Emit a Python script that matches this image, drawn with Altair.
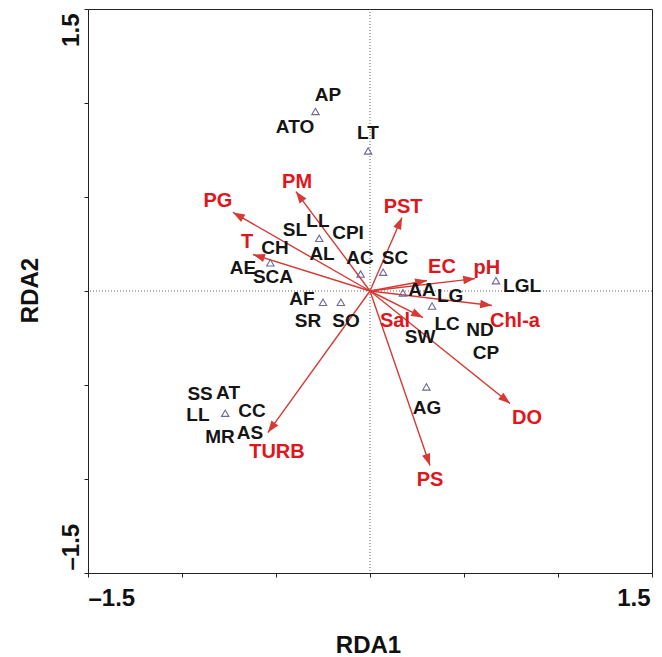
import altair as alt
import pandas as pd
import numpy as np

# Species (triangles) scores
tri_x = [-0.29, -0.01, -0.27, -0.53, -0.05, 0.07, -0.25, -0.155, 0.175, 0.33, 0.67, 0.30, -0.77]
tri_y = [0.955, 0.745, 0.28, 0.15, 0.09, 0.10, -0.06, -0.06, -0.01, -0.08, 0.055, -0.51, -0.65]

# Species labels
sp_names = ["AP", "ATO", "LT", "LL", "SL", "CPI", "AL", "CH", "AE", "SCA", "AC", "SC",
            "AF", "SR", "SO", "AA", "LG", "LGL", "LC", "SW", "ND", "CP", "AG",
            "SS", "AT", "LL", "CC", "MR", "AS"]
sp_x = [-0.223, -0.399, -0.011, -0.277, -0.399, -0.117, -0.255, -0.505, -0.676, -0.516, -0.053, 0.133,
        -0.362, -0.330, -0.128, 0.277, 0.426, 0.809, 0.410, 0.266, 0.585, 0.617, 0.303,
        -0.904, -0.755, -0.915, -0.628, -0.798, -0.638]
sp_y = [1.040, 0.870, 0.838, 0.375, 0.322, 0.306, 0.199, 0.231, 0.120, 0.072, 0.173, 0.173,
        -0.040, -0.157, -0.157, 0.003, -0.024, 0.029, -0.173, -0.247, -0.205, -0.332, -0.620,
        -0.548, -0.540, -0.662, -0.636, -0.779, -0.753]

# Environmental variables (arrows from the origin)
env_names = ["PG", "PM", "T", "PST", "EC", "pH", "Chl-a", "Sal", "DO", "PS", "TURB"]
env_x = [-0.729, -0.394, -0.622, 0.170, 0.303, 0.559, 0.649, 0.282, 0.745, 0.319, -0.543]
env_y = [0.418, 0.529, 0.194, 0.391, 0.056, 0.066, -0.077, -0.141, -0.598, -0.928, -0.753]
env_lx = [-0.809, -0.388, -0.654, 0.176, 0.383, 0.622, 0.771, 0.133, 0.835, 0.319, -0.495]
env_ly = [0.481, 0.582, 0.263, 0.449, 0.130, 0.120, -0.157, -0.162, -0.678, -1.003, -0.859]
origin = [0.0, 0.0]

tick_vals = [-1.5, -1.0, -0.5, 0.0, 0.5, 1.0, 1.5]

tri_df = pd.DataFrame({"x": tri_x, "y": tri_y})
sp_df = pd.DataFrame({"name": sp_names, "x": sp_x, "y": sp_y})
env_df = pd.DataFrame({"name": env_names, "x": env_x, "y": env_y, "lx": env_lx, "ly": env_ly})
env_df["ox"] = origin[0]
env_df["oy"] = origin[1]
env_df["ang"] = np.degrees(np.arctan2(env_df["x"] - env_df["ox"], env_df["y"] - env_df["oy"])) % 360
zero_df = pd.DataFrame({"v": [origin[0]]})

FONT = "Liberation Sans"
ARROW = "#d63a34"
LABRED = "#e0161d"

xs = alt.Scale(domain=[-1.5, 1.5], nice=False, zero=False)
ys = alt.Scale(domain=[-1.5, 1.5], nice=False, zero=False)

x_axis = alt.Axis(
    values=tick_vals, grid=False, title="RDA1",
    labelExpr="abs(datum.value) == 1.5 ? (datum.value < 0 ? '\u20131.5' : '1.5') : ''",
    labelFont=FONT, labelFontSize=24, labelFontWeight="bold", labelColor="#111",
    labelAlign={"expr": "datum.value < 0 ? 'left' : 'right'"},
    labelOffset={"expr": "datum.value < 0 ? 0 : -2"},
    labelBaseline="top", labelPadding=9,
    tickSize=4, tickColor="#222", domainColor="#222", domainWidth=1,
    titleFont=FONT, titleFontSize=24, titleFontWeight="bold", titleColor="#111",
    titleX=280, titleY=79, titleBaseline="alphabetic", titleAlign="center",
)
y_axis = alt.Axis(
    values=tick_vals, grid=False, title="RDA2",
    labelExpr="abs(datum.value) == 1.5 ? (datum.value < 0 ? '\u20131.5' : '1.5') : ''",
    labelFont=FONT, labelFontSize=24, labelFontWeight="bold", labelColor="#111",
    labelAngle=270,
    labelAlign={"expr": "datum.value > 0 ? 'right' : 'left'"},
    labelOffset={"expr": "datum.value > 0 ? 4 : -3"},
    labelBaseline="alphabetic", labelPadding=6,
    tickSize=4, tickColor="#222", domainColor="#222", domainWidth=1,
    titleFont=FONT, titleFontSize=24, titleFontWeight="bold", titleColor="#111",
    titleAngle=270, titleX=-51, titleY=281, titleBaseline="alphabetic", titleAlign="center",
)


def X(f):
    return alt.X(f, scale=xs, axis=x_axis, title="RDA1")


def Y(f):
    return alt.Y(f, scale=ys, axis=y_axis, title="RDA2")


zero_v = alt.Chart(zero_df).mark_rule(
    color="#666", strokeDash=[1, 2], strokeWidth=1
).encode(x=X("v:Q"))
zero_h = alt.Chart(zero_df).mark_rule(
    color="#666", strokeDash=[1, 2], strokeWidth=1
).encode(y=Y("v:Q"))

lines = alt.Chart(env_df).mark_rule(color=ARROW, strokeWidth=1.4).encode(
    x=X("ox:Q"), y=Y("oy:Q"),
    x2=alt.X2("x:Q"), y2=alt.Y2("y:Q"),
)
heads = alt.Chart(env_df).mark_point(
    shape="M0,0L-0.36,1L0.36,1Z", filled=True, color=ARROW, opacity=1, size=560, strokeWidth=0
).encode(
    x=X("x:Q"), y=Y("y:Q"),
    angle=alt.Angle("ang:Q", scale=None),
)
env_text = alt.Chart(env_df).mark_text(
    font=FONT, fontSize=20, fontWeight="bold", color=LABRED, align="center", baseline="middle"
).encode(
    x=X("lx:Q"), y=Y("ly:Q"),
    text="name:N",
)
tris = alt.Chart(tri_df).mark_point(
    shape="triangle-up", filled=False, color="#6a6a9c", size=55, strokeWidth=1.1, opacity=1
).encode(
    x=X("x:Q"), y=Y("y:Q"),
)
sp_text = alt.Chart(sp_df).mark_text(
    font=FONT, fontSize=19, fontWeight="bold", color="#151515", align="center", baseline="middle"
).encode(
    x=X("x:Q"), y=Y("y:Q"),
    text="name:N",
)

chart = alt.layer(zero_v, zero_h, lines, heads, tris, sp_text, env_text).properties(
    width=564, height=564,
    autosize=alt.AutoSizeParams(type="none"),
    padding={"left": 80, "top": 1, "right": 2, "bottom": 84},
    background="white",
).configure_view(stroke="#222", strokeWidth=1)

chart.save("out.html", embed_options={"renderer": "svg", "actions": False})
